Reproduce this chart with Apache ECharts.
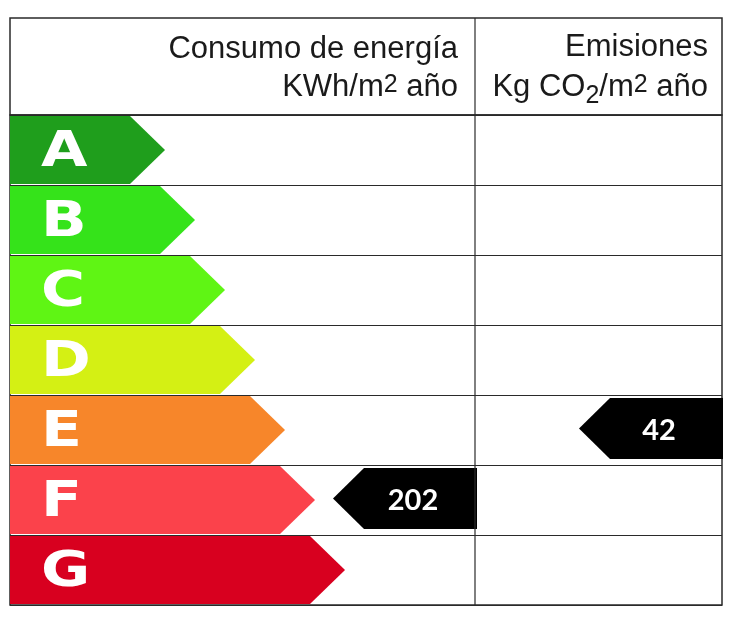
<!DOCTYPE html>
<html>
<head>
<meta charset="utf-8">
<title>Certificado energético</title>
<script src="https://cdn.jsdelivr.net/npm/echarts@6/dist/echarts.min.js"></script>
<style>
  html, body { margin: 0; padding: 0; background: #fff; }
  #chart { width: 733px; height: 622px; }
</style>
</head>
<body>
<div id="chart"></div>
<script>
// clases energéticas, de arriba abajo
var classes = ['A', 'B', 'C', 'D', 'E', 'F', 'G'];
// alcance de cada flecha (unidades del eje x)
var arrowReach = [155, 185, 215, 245, 275, 305, 335];
var classColors = ['#1f9e1c', '#35e31a', '#5ff514', '#d4f014', '#f7862a', '#fb424b', '#d8001f'];

// valores certificados
var energyValue = 202;
var energyClass = 'F';
var emissionValue = 42;
var emissionClass = 'E';

var chart = echarts.init(document.getElementById('chart'));

var arrowData = classes.map(function(c, i) { return [i, arrowReach[i]]; });
// [clase, valor, borde derecho de la columna]
var markerData = [
  [classes.indexOf(energyClass), energyValue, 467],
  [classes.indexOf(emissionClass), emissionValue, 713]
];

function renderArrow(params, api) {
  var cat = api.value(0);
  var start = api.coord([0, cat]);
  var tip = api.coord([api.value(1), cat]);
  var h = api.size([0, 1])[1];
  var half = h / 2 - 1;
  var depth = h / 2;
  var cy = start[1];
  return {
    type: 'group',
    children: [{
      type: 'polygon',
      shape: {
        points: [
          [start[0], cy - half], [tip[0] - depth, cy - half], [tip[0], cy],
          [tip[0] - depth, cy + half], [start[0], cy + half]
        ]
      },
      style: { fill: classColors[params.dataIndex] }
    }, {
      type: 'text',
      x: start[0] + 31,
      y: cy + 3,
      scaleX: 1.2,
      style: {
        text: classes[params.dataIndex],
        fill: '#fff',
        font: 'bold 50px "DejaVu Sans"',
        verticalAlign: 'middle',
        align: 'left'
      }
    }]
  };
}

function renderMarker(params, api) {
  var cat = api.value(0);
  var right = api.coord([api.value(2), cat]);
  var left = api.coord([api.value(2) - 144, cat]);
  var h = api.size([0, 1])[1];
  var top = right[1] - h / 2 + 3;
  var bottom = right[1] + h / 2 - 6;
  var mid = (top + bottom) / 2;
  var depth = 31;
  return {
    type: 'group',
    children: [{
      type: 'polygon',
      shape: {
        points: [
          [left[0], mid], [left[0] + depth, top], [right[0], top],
          [right[0], bottom], [left[0] + depth, bottom]
        ]
      },
      style: { fill: '#000' }
    }, {
      type: 'text',
      x: left[0] + 80,
      y: mid + 2,
      style: {
        text: String(api.value(1)),
        fill: '#fff',
        font: 'bold 29px Lato, "Open Sans", sans-serif',
        align: 'center',
        verticalAlign: 'middle'
      }
    }]
  };
}

var headerFont = '"Liberation Sans", Arial, sans-serif';

var option = {
  animation: false,
  backgroundColor: '#fff',
  grid: {
    left: 10, right: 11, top: 115, bottom: 17,
    show: true, borderColor: '#2a2a2a', borderWidth: 1.5
  },
  xAxis: {
    type: 'value', min: 0, max: 712,
    axisLine: { show: false }, axisTick: { show: false },
    axisLabel: { show: false }, splitLine: { show: false }
  },
  yAxis: {
    type: 'category', data: classes, inverse: true,
    axisLine: { show: false }, axisTick: { show: false },
    axisLabel: { show: false },
    splitLine: { show: true, lineStyle: { color: '#2a2a2a', width: 1.2 } }
  },
  graphic: [
    {
      type: 'rect', z: 10,
      shape: { x: 10, y: 18, width: 712, height: 97 },
      style: { fill: 'none', stroke: '#2a2a2a', lineWidth: 1.5 }
    },
    {
      type: 'line', z: 10,
      shape: { x1: 475, y1: 18, x2: 475, y2: 605 },
      style: { stroke: '#2a2a2a', lineWidth: 1.2 }
    },
    {
      type: 'text', z: 11, x: 458, y: 49,
      style: {
        text: 'Consumo de energía', fill: '#1a1a1a',
        font: '31px ' + headerFont, align: 'right', verticalAlign: 'middle'
      }
    },
    {
      type: 'text', z: 11, x: 458, y: 103,
      style: {
        text: '{a|KWh/m}{s|2}{a| año}', align: 'right', verticalAlign: 'bottom',
        rich: {
          a: { fontSize: 31, fontFamily: headerFont, fill: '#1a1a1a', lineHeight: 36, verticalAlign: 'bottom' },
          s: { fontSize: 25, fontFamily: headerFont, fill: '#1a1a1a', lineHeight: 36, verticalAlign: 'bottom', padding: [0, 0, 5, 0] }
        }
      }
    },
    {
      type: 'text', z: 11, x: 708, y: 47,
      style: {
        text: 'Emisiones', fill: '#1a1a1a',
        font: '31px ' + headerFont, align: 'right', verticalAlign: 'middle'
      }
    },
    {
      type: 'text', z: 11, x: 708, y: 103,
      style: {
        text: '{a|Kg CO}{b|2}{a|/m}{s|2}{a| año}', align: 'right', verticalAlign: 'bottom',
        rich: {
          a: { fontSize: 31, fontFamily: headerFont, fill: '#1a1a1a', lineHeight: 36, verticalAlign: 'bottom' },
          b: { fontSize: 25, fontFamily: headerFont, fill: '#1a1a1a', lineHeight: 36, verticalAlign: 'bottom', padding: [0, 0, -6, 0] },
          s: { fontSize: 25, fontFamily: headerFont, fill: '#1a1a1a', lineHeight: 36, verticalAlign: 'bottom', padding: [0, 0, 5, 0] }
        }
      }
    }
  ],
  series: [
    {
      type: 'custom', name: 'clases',
      renderItem: renderArrow,
      encode: { x: 1, y: 0 },
      data: arrowData
    },
    {
      type: 'custom', name: 'valores',
      renderItem: renderMarker,
      encode: { x: 2, y: 0 },
      data: markerData,
      z: 5
    }
  ]
};

chart.setOption(option);
</script>
</body>
</html>
